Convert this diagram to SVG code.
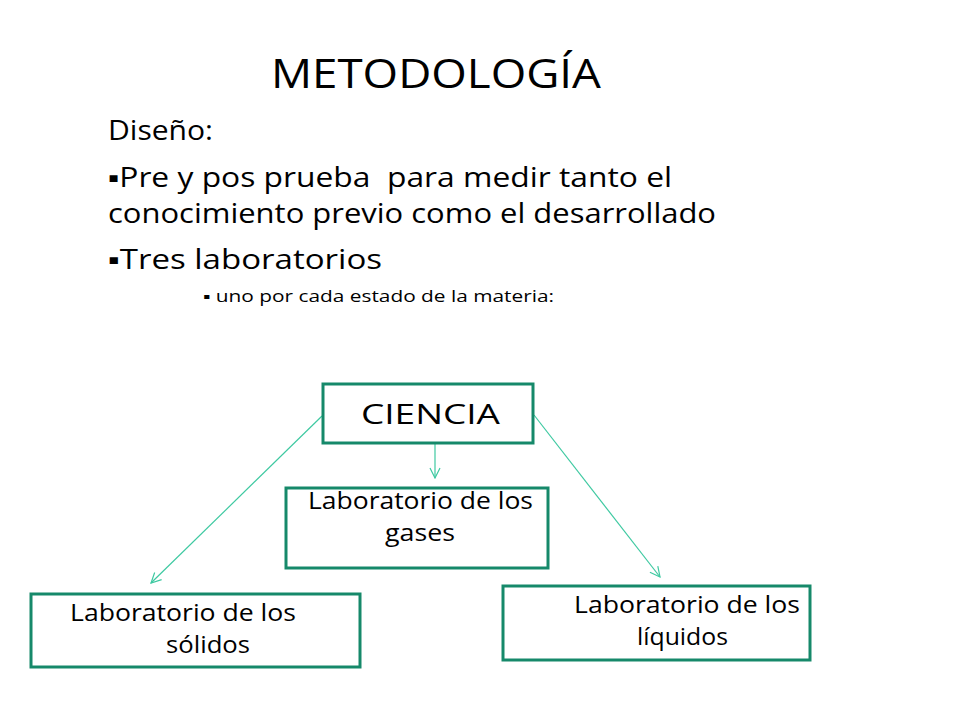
<svg xmlns="http://www.w3.org/2000/svg" width="960" height="720" viewBox="0 0 960 720">
<defs>
<style>
text{font-family:"Open Sans","Liberation Sans",sans-serif;fill:#000}
.node rect{fill:#fff;stroke:#16896a;stroke-width:3}
.conn line{stroke:#3ec9a1;stroke-width:1.2;fill:none}
.lbl{font-size:23px}
</style>
<marker id="arr" viewBox="0 0 12 12" refX="11" refY="6" markerWidth="12" markerHeight="12" markerUnits="userSpaceOnUse" orient="auto">
<path d="M1,1 L11,6 L1,11" fill="none" stroke="#3ec9a1" stroke-width="1.2"/>
</marker>
</defs>
<rect width="960" height="720" fill="#fff"/>
<text x="271" y="88" font-size="40" textLength="330" lengthAdjust="spacingAndGlyphs">METODOLOGÍA</text>
<text x="108" y="140" font-size="27" textLength="105" lengthAdjust="spacingAndGlyphs">Diseño:</text>
<text x="108" y="187" font-size="27" textLength="564" lengthAdjust="spacingAndGlyphs">▪Pre y pos prueba &#160;para medir tanto el</text>
<text x="108" y="223" font-size="27" textLength="608" lengthAdjust="spacingAndGlyphs">conocimiento previo como el desarrollado</text>
<text x="108" y="269" font-size="27" textLength="274" lengthAdjust="spacingAndGlyphs">▪Tres laboratorios</text>
<text x="203" y="302" font-size="16" textLength="351" lengthAdjust="spacingAndGlyphs">▪ uno por cada estado de la materia:</text>
<g class="conn">
<line x1="322" y1="416" x2="151" y2="583" marker-end="url(#arr)"/>
<line x1="435" y1="444" x2="435" y2="478" marker-end="url(#arr)"/>
<line x1="534" y1="415" x2="660" y2="577" marker-end="url(#arr)"/>
</g>
<g id="ciencia" class="node">
<rect x="323" y="384" width="210" height="59"/>
<text x="361" y="424" font-size="27" textLength="139" lengthAdjust="spacingAndGlyphs">CIENCIA</text>
</g>
<g id="gases" class="node">
<rect x="286" y="488" width="262" height="80"/>
<text class="lbl" x="308" y="509" textLength="225" lengthAdjust="spacingAndGlyphs">Laboratorio de los</text>
<text class="lbl" x="385" y="541" textLength="70" lengthAdjust="spacingAndGlyphs">gases</text>
</g>
<g id="solidos" class="node">
<rect x="31" y="594" width="329" height="73"/>
<text class="lbl" x="70" y="621" textLength="226" lengthAdjust="spacingAndGlyphs">Laboratorio de los</text>
<text class="lbl" x="166" y="653" textLength="84" lengthAdjust="spacingAndGlyphs">sólidos</text>
</g>
<g id="liquidos" class="node">
<rect x="503" y="586" width="307" height="74"/>
<text class="lbl" x="574" y="613" textLength="226" lengthAdjust="spacingAndGlyphs">Laboratorio de los</text>
<text class="lbl" x="637" y="645" textLength="91" lengthAdjust="spacingAndGlyphs">líquidos</text>
</g>
</svg>
